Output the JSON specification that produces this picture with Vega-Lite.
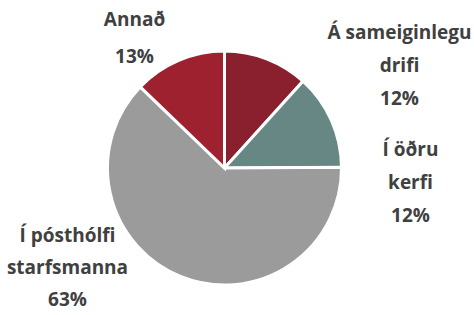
{
  "$schema": "https://vega.github.io/schema/vega-lite/v6.json",
  "autosize": "none",
  "width": 449,
  "height": 294,
  "padding": {"left": 0, "top": 21, "right": 25, "bottom": 0},
  "background": "white",
  "config": {"view": {"stroke": null}},
  "data": {
    "values": [
      {"rank": 1, "category": "Á sameiginlegu drifi", "value": 11.7, "label": "Á sameiginlegu\ndrifi\n12%"},
      {"rank": 2, "category": "Í öðru kerfi", "value": 13.2, "label": "Í öðru\nkerfi\n12%"},
      {"rank": 3, "category": "Í pósthólfi starfsmanna", "value": 62.3, "label": "Í pósthólfi\nstarfsmanna\n63%"},
      {"rank": 4, "category": "Annað", "value": 12.8, "label": "Annað\n13%"}
    ]
  },
  "layer": [
    {
      "mark": {"type": "arc", "outerRadius": 117, "stroke": "white", "strokeWidth": 3},
      "encoding": {
        "theta": {"field": "value", "type": "quantitative", "stack": true},
        "order": {"field": "rank", "type": "quantitative"},
        "color": {
          "field": "category",
          "type": "nominal",
          "legend": null,
          "scale": {
            "domain": ["Á sameiginlegu drifi", "Í öðru kerfi", "Í pósthólfi starfsmanna", "Annað"],
            "range": ["#8A1F2E", "#668784", "#9B9B9B", "#9E2130"]
          }
        }
      }
    },
    {
      "transform": [{"filter": "datum.rank == 1"}],
      "mark": {"type": "text", "font": "Open Sans", "fontWeight": "bold", "fontSize": 19, "color": "#404040", "lineBreak": "\n", "lineHeight": 33, "align": "center", "baseline": "middle", "dx": 175, "dy": -135},
      "encoding": {"text": {"field": "label", "type": "nominal"}}
    },
    {
      "transform": [{"filter": "datum.rank == 2"}],
      "mark": {"type": "text", "font": "Open Sans", "fontWeight": "bold", "fontSize": 19, "color": "#404040", "lineBreak": "\n", "lineHeight": 33, "align": "center", "baseline": "middle", "dx": 186, "dy": -18},
      "encoding": {"text": {"field": "label", "type": "nominal"}}
    },
    {
      "transform": [{"filter": "datum.rank == 3"}],
      "mark": {"type": "text", "font": "Open Sans", "fontWeight": "bold", "fontSize": 19, "color": "#404040", "lineBreak": "\n", "lineHeight": 32, "align": "center", "baseline": "middle", "dx": -157, "dy": 68},
      "encoding": {"text": {"field": "label", "type": "nominal"}}
    },
    {
      "transform": [{"filter": "datum.rank == 4"}],
      "mark": {"type": "text", "font": "Open Sans", "fontWeight": "bold", "fontSize": 19, "color": "#404040", "lineBreak": "\n", "lineHeight": 37, "align": "center", "baseline": "middle", "dx": -90, "dy": -148},
      "encoding": {"text": {"field": "label", "type": "nominal"}}
    }
  ]
}
